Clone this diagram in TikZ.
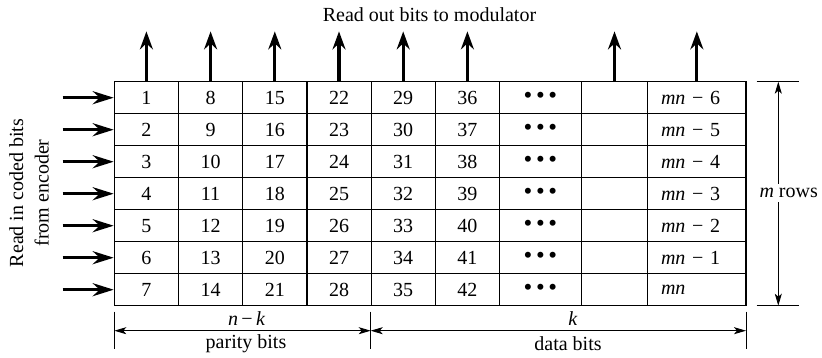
\documentclass[tikz,border=0pt]{standalone}
\usepackage{fontspec}
\setmainfont{Liberation Serif}
\usetikzlibrary{arrows.meta}
\begin{document}
\begin{tikzpicture}[x=1pt,y=-1pt,
  font=\fontsize{20}{25.5}\selectfont,
  cell/.style={draw, line width=1.2pt, minimum height=32pt, inner sep=0pt, anchor=center},
  uparrow/.style={line width=3.2pt, -{Stealth[length=18pt,width=13pt,inset=6pt]}},
  inarrow/.style={line width=3.2pt, -{Stealth[length=21pt,width=13pt,inset=7pt]}},
  dimarrow/.style={line width=0.9pt, {Stealth[length=12pt,width=7pt,inset=3pt]}-{Stealth[length=12pt,width=7pt,inset=3pt]}},
  tickline/.style={line width=0.9pt},
  lbl/.style={inner sep=0pt}]
\useasboundingbox (0,0) rectangle (822,358);

% numeric columns
\foreach \j/\xl/\xr in {1/114.3/178.5,2/178.5/242.7,3/242.7/306.9,4/306.9/371.1,5/371.1/435.3,6/435.3/499.5}{
  \foreach \i in {1,...,7}{
    \pgfmathtruncatemacro{\v}{7*(\j-1)+\i}
    \node[cell, minimum width={(\xr-\xl)*1pt}] (c-\i-\j) at ({(\xl+\xr)/2},{65.7+32*\i}) {\v};
  }
}
% dots column, empty column, mn column
\foreach \i in {1,...,7}{
  \node[cell, minimum width=81.8pt] (c-\i-7) at (540.4,{65.7+32*\i}) {\fontsize{25}{25}\selectfont •\hspace{3.6pt}•\hspace{3.6pt}•};
  \node[cell, minimum width=66.4pt] (c-\i-8) at (614.5,{65.7+32*\i}) {};
}
\foreach \i/\t in {1/\textit{mn} − 6,2/\textit{mn} − 5,3/\textit{mn} − 4,4/\textit{mn} − 3,5/\textit{mn} − 2,6/\textit{mn} − 1,7/\textit{mn}}{
  \node[cell, minimum width=98.3pt, inner xsep=13.3pt, text width=71.7pt, align=left] (c-\i-9) at (696.85,{65.7+32*\i}) {\t};
}

% read-out arrows
\foreach \j in {1,2,3,4,5,6,8,9}{
  \path (c-1-\j.north) ++(0,-49.7) coordinate (up-\j);
  \draw[uparrow] (c-1-\j.north) -- (up-\j);
}
\node[lbl] (outlabel) at (429.5,15) {Read out bits to modulator};

% read-in arrows
\foreach \i in {1,...,7}{
  \path (c-\i-1.west) ++(-51,0) coordinate (in-\i);
  \draw[inarrow] (in-\i) -- (c-\i-1.west);
}
\node[lbl, rotate=90, align=center] (inlabel) at (29,193) {Read in coded bits\\from encoder};

% m rows dimension
\coordinate (rt1) at (756.7,81.7);
\coordinate (rt2) at (799,81.7);
\coordinate (rb1) at (756.7,305.7);
\coordinate (rb2) at (799,305.7);
\draw[tickline] (rt1) -- (rt2);
\draw[tickline] (rb1) -- (rb2);
\coordinate (ra1) at (778.3,81.7);
\coordinate (ra2) at (778.3,305.7);
\draw[dimarrow] (ra1) -- (ra2);
\node[fill=white, inner xsep=0pt, inner ysep=4pt] (mrows) at (788.7,193) {\textit{m} rows};

% bottom dimensions
\foreach \n/\x in {1/114.3,2/370.7,3/746}{
  \coordinate (bt-\n) at (\x,311.7);
  \coordinate (bb-\n) at (\x,349.3);
  \draw[tickline] (bt-\n) -- (bb-\n);
  \coordinate (bd-\n) at (\x,330.7);
}
\draw[dimarrow] (bd-1) -- (bd-2);
\draw[dimarrow] (bd-2) -- (bd-3);
\node[lbl] (nk) at (246.7,319) {\textit{n}\,−\,\textit{k}};
\node[lbl] (parity) at (246,344) {parity bits};
\node[lbl] (kk) at (573,319) {\textit{k}};
\node[lbl] (data) at (568,344) {data bits};
\end{tikzpicture}
\end{document}
